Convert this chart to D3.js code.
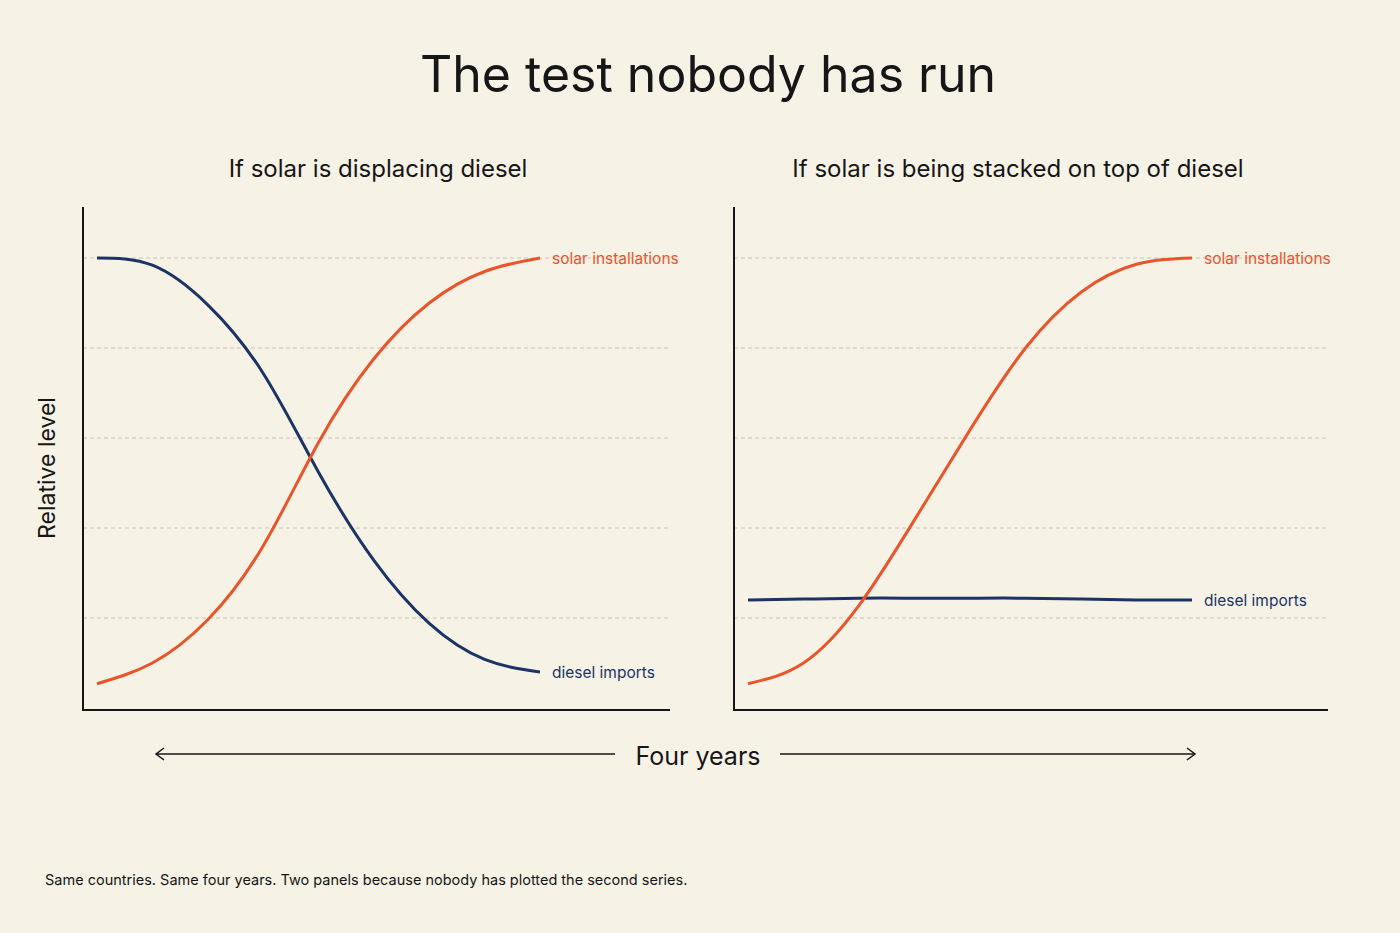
<!DOCTYPE html><html><head><meta charset="utf-8">
<script src="https://cdn.jsdelivr.net/npm/d3@7"></script>
<style>body{margin:0;background:#f7f2e6}text{font-family:Inter,"Noto Sans",sans-serif}</style></head><body>
<svg id="c" width="1400" height="933"></svg>
<script>
const years=[0,0.5,1,1.5,2,2.5,3,3.5,4];
const leftDiesel=[5.0,4.92,4.48,3.72,2.62,1.64,0.94,0.54,0.4];
const leftSolar=[0.27,0.5,0.98,1.8,2.95,3.88,4.5,4.85,5.0];
const rightSolar=[0.27,0.5,1.14,2.09,3.09,4.0,4.62,4.93,5.0];
const rightDiesel=[1.2,1.21,1.22,1.22,1.22,1.22,1.21,1.2,1.2];
const gridLevels=[1,2,3,4,5];
const ORANGE="#e8552b",NAVY="#1b3465";
const svg=d3.select("#c");
svg.append("rect").attr("width",1400).attr("height",933).attr("fill","#f7f2e6");
svg.append("text").attr("x",708).attr("y",92).attr("text-anchor","middle").attr("font-size",50).attr("fill","#161616").text("The test nobody has run");
const y=d3.scaleLinear().domain([0,5]).range([708,258]);
function panel(x0,x1,cx0,cx1,title,tcx,series){
  const x=d3.scaleLinear().domain([0,4]).range([cx0,cx1]);
  const g=svg.append("g");
  g.append("text").attr("x",tcx).attr("y",177).attr("text-anchor","middle").attr("font-size",24).attr("fill","#161616").text(title);
  gridLevels.forEach(v=>g.append("line").attr("x1",x0).attr("x2",x1).attr("y1",y(v)).attr("y2",y(v)).attr("stroke","#c9c3b8").attr("stroke-dasharray","4,3").attr("stroke-width",1));
  g.append("path").attr("d",`M${x0},207V710H${x1}`).attr("fill","none").attr("stroke","#161616").attr("stroke-width",2);
  const line=d3.line().x((d,i)=>x(years[i])).y(d=>y(d)).curve(d3.curveNatural);
  series.forEach(s=>{
    g.append("path").attr("d",line(s.v)).attr("fill","none").attr("stroke",s.c).attr("stroke-width",3);
    g.append("text").attr("x",x(4)+12).attr("y",y(s.v[8])+6).attr("font-size",15.5).attr("fill",s.c).text(s.l);
  });
}
panel(83,670,97,540,"If solar is displacing diesel",378,[{v:leftDiesel,c:NAVY,l:"diesel imports"},{v:leftSolar,c:ORANGE,l:"solar installations"}]);
panel(734,1328,748,1192,"If solar is being stacked on top of diesel",1018,[{v:rightDiesel,c:NAVY,l:"diesel imports"},{v:rightSolar,c:ORANGE,l:"solar installations"}]);
svg.append("text").attr("transform","translate(55,468) rotate(-90)").attr("text-anchor","middle").attr("font-size",23).attr("fill","#161616").text("Relative level");
svg.append("text").attr("x",698).attr("y",765).attr("text-anchor","middle").attr("font-size",25).attr("fill","#161616").text("Four years");
svg.append("line").attr("x1",156).attr("x2",615).attr("y1",754).attr("y2",754).attr("stroke","#161616").attr("stroke-width",1.5);
svg.append("path").attr("d","M164,748L156,754L164,760").attr("fill","none").attr("stroke","#161616").attr("stroke-width",1.5);
svg.append("line").attr("x1",780).attr("x2",1195).attr("y1",754).attr("y2",754).attr("stroke","#161616").attr("stroke-width",1.5);
svg.append("path").attr("d","M1187,748L1195,754L1187,760").attr("fill","none").attr("stroke","#161616").attr("stroke-width",1.5);
svg.append("text").attr("x",45).attr("y",885).attr("font-size",14.5).attr("fill","#161616").text("Same countries. Same four years. Two panels because nobody has plotted the second series.");
</script></body></html>
